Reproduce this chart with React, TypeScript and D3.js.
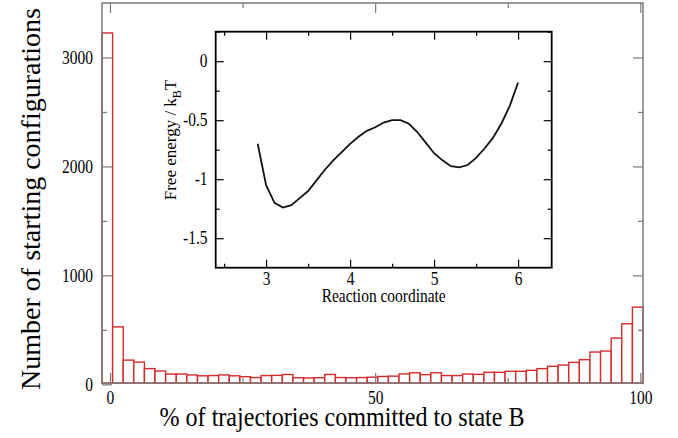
import React, { useEffect, useRef } from 'react';
import * as d3 from 'd3';

// histogram: % of trajectories committed to B, bins of width 2
const binCentres = [
  0, 2, 4, 6, 8, 10, 12, 14, 16, 18, 20, 22, 24, 26, 28, 30, 32, 34, 36, 38,
  40, 42, 44, 46, 48, 50, 52, 54, 56, 58, 60, 62, 64, 66, 68, 70, 72, 74, 76, 78,
  80, 82, 84, 86, 88, 90, 92, 94, 96, 98, 100,
];
const counts = [
  3225, 527, 222, 204, 144, 122, 94, 94, 86, 78, 80, 86, 78, 70, 62, 80, 82, 90, 60, 58,
  60, 90, 62, 60, 62, 65, 72, 75, 95, 106, 89, 106, 80, 80, 94, 91, 110, 110, 119, 119,
  128, 144, 165, 177, 201, 226, 296, 305, 424, 556, 708,
];
const xMajor = [0, 50, 100];
const xMinor = [25, 75];
const yMajor = [0, 1000, 2000, 3000];
const yMinor = [500, 1500, 2500];

// inset: free energy profile
const reactionCoord = [
  2.9, 3.0, 3.1, 3.2, 3.3, 3.4, 3.5, 3.6, 3.7, 3.8, 3.9, 4.0, 4.1, 4.2, 4.3, 4.4,
  4.5, 4.6, 4.7, 4.8, 4.9, 5.0, 5.1, 5.2, 5.3, 5.4, 5.5, 5.6, 5.7, 5.8, 5.9, 6.0,
];
const freeEnergy = [
  -0.70, -1.05, -1.20, -1.24, -1.22, -1.16, -1.10, -1.01, -0.92, -0.84, -0.77, -0.70,
  -0.64, -0.59, -0.56, -0.52, -0.50, -0.50, -0.53, -0.60, -0.69, -0.78, -0.84, -0.89,
  -0.90, -0.88, -0.82, -0.74, -0.65, -0.53, -0.38, -0.18,
];
const insetXMajor = [3, 4, 5, 6];
const insetXMinor = [2.5, 3.5, 4.5, 5.5];
const insetYMajor = [0, -0.5, -1, -1.5];
const insetYMinor = [0.25, -0.25, -0.75, -1.25];

const FONT = '"Liberation Serif", "Times New Roman", serif';
const GREY = '#7a7a7a';
const RED = '#d42a2a';
// horizontal text in the original is a bit narrower than Liberation Serif
const SQ = 0.86;

export default function App() {
  const ref = useRef<SVGSVGElement | null>(null);

  useEffect(() => {
    const svg = d3.select(ref.current);
    svg.selectAll('*').remove();

    const frame = { left: 102, right: 643, top: 3, bottom: 383 };

    const band = d3.scaleBand<number>()
      .domain(binCentres)
      .range([frame.left, frame.right])
      .paddingInner(0)
      .paddingOuter(0);
    const x = d3.scaleLinear().domain([-1.5, 100.5]).range([frame.left, frame.right]);
    const y = d3.scaleLinear().domain([0, 3500]).range([384.3, frame.top]);

    const main = svg.append('g');

    // bars
    main.append('g')
      .selectAll('rect')
      .data(binCentres)
      .enter()
      .append('rect')
      .attr('x', d => band(d) as number)
      .attr('width', band.bandwidth())
      .attr('y', (d, i) => y(counts[i]))
      .attr('height', (d, i) => frame.bottom - y(counts[i]))
      .attr('fill', 'white')
      .attr('stroke', RED)
      .attr('stroke-width', 1.4);

    const styleAxis = (g, color, size) => {
      g.select('.domain').remove();
      g.selectAll('line').attr('stroke', color).attr('stroke-width', 1.2);
      g.selectAll('text')
        .attr('fill', '#000')
        .attr('transform', `scale(${SQ},1)`)
        .style('font-family', FONT)
        .style('font-size', size + 'px');
    };
    const noLabel = () => '';
    const intFmt = d3.format('d');

    // x axes (bottom labelled, top ticks only)
    main.append('g')
      .attr('transform', `translate(0,${frame.bottom})`)
      .call(d3.axisBottom(x).tickValues(xMajor).tickSize(-10).tickPadding(8).tickFormat(intFmt))
      .call(g => styleAxis(g, GREY, 18));
    main.append('g')
      .attr('transform', `translate(0,${frame.bottom})`)
      .call(d3.axisBottom(x).tickValues(xMinor).tickSize(-5).tickFormat(noLabel))
      .call(g => styleAxis(g, GREY, 18));
    main.append('g')
      .attr('transform', `translate(0,${frame.top})`)
      .call(d3.axisTop(x).tickValues(xMajor).tickSize(-10).tickFormat(noLabel))
      .call(g => styleAxis(g, GREY, 18));
    main.append('g')
      .attr('transform', `translate(0,${frame.top})`)
      .call(d3.axisTop(x).tickValues(xMinor).tickSize(-5).tickFormat(noLabel))
      .call(g => styleAxis(g, GREY, 18));

    // y axes
    main.append('g')
      .attr('transform', `translate(${frame.left},0)`)
      .call(d3.axisLeft(y).tickValues(yMajor).tickSize(-10).tickPadding(10.5).tickFormat(intFmt))
      .call(g => styleAxis(g, GREY, 18));
    main.append('g')
      .attr('transform', `translate(${frame.left},0)`)
      .call(d3.axisLeft(y).tickValues(yMinor).tickSize(-5).tickFormat(noLabel))
      .call(g => styleAxis(g, GREY, 18));
    main.append('g')
      .attr('transform', `translate(${frame.right},0)`)
      .call(d3.axisRight(y).tickValues(yMajor.slice(1)).tickSize(-10).tickFormat(noLabel))
      .call(g => styleAxis(g, GREY, 18));
    main.append('g')
      .attr('transform', `translate(${frame.right},0)`)
      .call(d3.axisRight(y).tickValues(yMinor).tickSize(-5).tickFormat(noLabel))
      .call(g => styleAxis(g, GREY, 18));

    // frame
    main.append('rect')
      .attr('x', frame.left)
      .attr('y', frame.top)
      .attr('width', frame.right - frame.left)
      .attr('height', frame.bottom - frame.top)
      .attr('fill', 'none')
      .attr('stroke', GREY)
      .attr('stroke-width', 1.5);

    // axis titles
    main.append('text')
      .attr('transform', `translate(342,426) scale(${SQ},1)`)
      .attr('text-anchor', 'middle')
      .style('font-family', FONT)
      .style('font-size', '28px')
      .text('% of trajectories committed to state B');
    main.append('text')
      .attr('transform', 'translate(40,199) rotate(-90)')
      .attr('text-anchor', 'middle')
      .style('font-family', FONT)
      .style('font-size', '28px')
      .text('Number of starting configurations');

    // inset
    const inset = { left: 215.7, right: 551.7, top: 31.7, bottom: 267.7 };
    const ix = d3.scaleLinear().domain([2.4, 6.4]).range([inset.left, inset.right]);
    const iy = d3.scaleLinear().domain([-1.75, 0.25]).range([inset.bottom, inset.top]);
    const ig = svg.append('g');

    ig.append('rect')
      .attr('x', inset.left)
      .attr('y', inset.top)
      .attr('width', inset.right - inset.left)
      .attr('height', inset.bottom - inset.top)
      .attr('fill', 'white');

    ig.append('g')
      .attr('transform', `translate(0,${inset.bottom})`)
      .call(d3.axisBottom(ix).tickValues(insetXMajor).tickSize(-8).tickPadding(5).tickFormat(intFmt))
      .call(g => styleAxis(g, '#000', 18));
    ig.append('g')
      .attr('transform', `translate(0,${inset.bottom})`)
      .call(d3.axisBottom(ix).tickValues(insetXMinor).tickSize(-4).tickFormat(noLabel))
      .call(g => styleAxis(g, '#000', 18));
    ig.append('g')
      .attr('transform', `translate(0,${inset.top})`)
      .call(d3.axisTop(ix).tickValues(insetXMajor).tickSize(-8).tickFormat(noLabel))
      .call(g => styleAxis(g, '#000', 18));
    ig.append('g')
      .attr('transform', `translate(0,${inset.top})`)
      .call(d3.axisTop(ix).tickValues(insetXMinor).tickSize(-4).tickFormat(noLabel))
      .call(g => styleAxis(g, '#000', 18));
    ig.append('g')
      .attr('transform', `translate(${inset.left},0)`)
      .call(d3.axisLeft(iy).tickValues(insetYMajor).tickSize(-8).tickPadding(9.5)
        .tickFormat(d => String(d)))
      .call(g => styleAxis(g, '#000', 18));
    ig.append('g')
      .attr('transform', `translate(${inset.left},0)`)
      .call(d3.axisLeft(iy).tickValues(insetYMinor).tickSize(-4).tickFormat(noLabel))
      .call(g => styleAxis(g, '#000', 18));
    ig.append('g')
      .attr('transform', `translate(${inset.right},0)`)
      .call(d3.axisRight(iy).tickValues(insetYMajor).tickSize(-8).tickFormat(noLabel))
      .call(g => styleAxis(g, '#000', 18));
    ig.append('g')
      .attr('transform', `translate(${inset.right},0)`)
      .call(d3.axisRight(iy).tickValues(insetYMinor).tickSize(-4).tickFormat(noLabel))
      .call(g => styleAxis(g, '#000', 18));

    ig.append('rect')
      .attr('x', inset.left)
      .attr('y', inset.top)
      .attr('width', inset.right - inset.left)
      .attr('height', inset.bottom - inset.top)
      .attr('fill', 'none')
      .attr('stroke', '#000')
      .attr('stroke-width', 1.8);

    const line = d3.line<number>()
      .x(d => ix(d))
      .y((d, i) => iy(freeEnergy[i]));
    ig.append('path')
      .datum(reactionCoord)
      .attr('d', line)
      .attr('fill', 'none')
      .attr('stroke', '#111')
      .attr('stroke-width', 1.8);

    ig.append('text')
      .attr('transform', `translate(${(inset.left + inset.right) / 2},302) scale(${SQ},1)`)
      .attr('text-anchor', 'middle')
      .style('font-family', FONT)
      .style('font-size', '18px')
      .text('Reaction coordinate');

    const yl = ig.append('text')
      .attr('transform', 'translate(176,140) rotate(-90)')
      .attr('text-anchor', 'middle')
      .style('font-family', FONT)
      .style('font-size', '17px');
    yl.append('tspan').text('Free energy / k');
    yl.append('tspan').attr('dy', 5).style('font-size', '12px').text('B');
    yl.append('tspan').attr('dy', -5).text('T');
  }, []);

  return (
    <svg
      ref={ref}
      width={678}
      height={438}
      style={{ position: 'absolute', left: 0, top: 0, background: 'white' }}
    />
  );
}
